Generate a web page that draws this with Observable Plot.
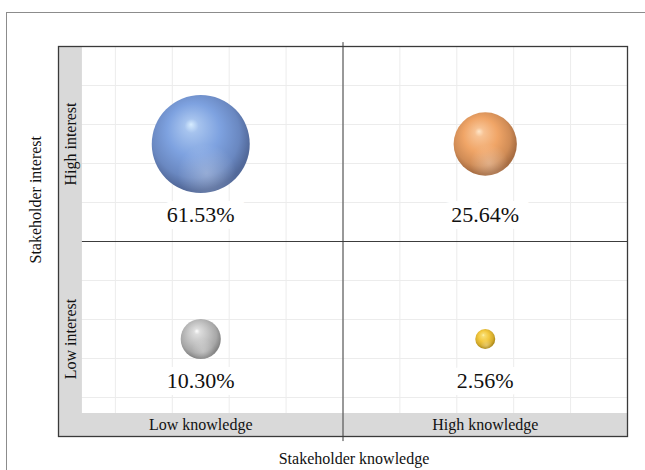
<!DOCTYPE html>
<html><head><meta charset="utf-8">
<script src="https://cdn.jsdelivr.net/npm/d3@7"></script>
<script src="https://cdn.jsdelivr.net/npm/@observablehq/plot@0.6"></script>
<style>
html,body{margin:0;padding:0;background:#fff;overflow:hidden;}
#wrap{position:relative;width:645px;height:470px;overflow:hidden;}
#border{position:absolute;left:6px;top:12px;width:700px;height:520px;border:1.5px solid #8c8c8c;box-sizing:border-box;}
#chart{position:absolute;left:0;top:0;}
</style></head><body>
<div id="wrap"><div id="border"></div><div id="chart"></div></div>
<script>
// ---- data ----
const knowledge = ["Low", "High", "Low", "High"];
const interest = ["High", "High", "Low", "Low"];
const shares = [61.53, 25.64, 10.30, 2.56];
const shareLabels = ["61.53%", "25.64%", "10.30%", "2.56%"];
const knowledgeLabels = ["Low knowledge", "High knowledge"];
const interestLabels = ["High interest", "Low interest"];
const xTitle = "Stakeholder knowledge";
const yTitle = "Stakeholder interest";
// ---- styles ----
const highlightColors = ["#d6ecff", "#ffe6c8", "#ffffff", "#fff6b0"];
const baseColors = ["#7ea2e0", "#f0a567", "#c2c2c2", "#f3c83e"];
const edgeColors = ["#52699a", "#a86d42", "#858585", "#ae8a18"];

// ---- layout ----
const levelPos = {Low: 2.5, High: 7.5};
const labelY = {High: 5.67, Low: 1.42};
const font = "'Liberation Serif', 'Times New Roman', serif";

const rows = shares.map((v, i) => ({k: knowledge[i], it: interest[i], v, label: shareLabels[i], i}));

const svg = Plot.plot({
  width: 645,
  height: 470,
  marginLeft: 58,
  marginRight: 18,
  marginTop: 46,
  marginBottom: 34,
  style: {fontFamily: font, background: "transparent", color: "#111"},
  x: {domain: [0, 10], axis: null},
  y: {domain: [0, 10], axis: null},
  r: {type: "sqrt", domain: [0, d3.max(shares)], range: [0, 49]},
  color: {type: "identity"},
  marks: [
    Plot.ruleX(d3.range(0, 11), {stroke: "#ececec", strokeWidth: 1}),
    Plot.ruleY(d3.range(0, 11), {stroke: "#ececec", strokeWidth: 1}),
    Plot.rect([0], {x1: 0, x2: 0.42, y1: 0, y2: 10, fill: "#d9d9d9"}),
    Plot.rect([0], {x1: 0, x2: 10, y1: 0, y2: 0.59, fill: "#d9d9d9"}),
    Plot.ruleY([5], {x1: 0.42, x2: 10, stroke: "#3c3c3c", strokeWidth: 1}),
    Plot.ruleX([5], {y1: -0.13, y2: 10.1, stroke: "#3c3c3c", strokeWidth: 1}),
    Plot.frame({stroke: "#3a3a3a", strokeWidth: 1.3}),
    Plot.dot(rows, {x: d => levelPos[d.k], y: d => levelPos[d.it], r: "v", fill: d => `url(#sphere-${d.i})`, stroke: null}),
    Plot.dot(rows, {x: d => levelPos[d.k], y: d => levelPos[d.it], r: "v", fill: "url(#sphere-reflect)", stroke: null}),
    Plot.text(rows, {x: d => levelPos[d.k], y: d => labelY[d.it], text: "label", fontSize: 22,
      fill: "#111", stroke: "white", strokeWidth: 14, paintOrder: "stroke", strokeLinejoin: "miter"}),
    Plot.text(knowledgeLabels, {x: d => levelPos[d.split(" ")[0]], y: 0.3, fontSize: 16, fill: "#111"}),
    Plot.text(interestLabels, {x: 0.22, y: d => levelPos[d.split(" ")[0]], rotate: -90, fontSize: 16, fill: "#111"}),
    Plot.text([xTitle], {frameAnchor: "bottom", dx: 11, dy: 27, fontSize: 16, fill: "#111"}),
    Plot.text([yTitle], {frameAnchor: "left", dx: -23, dy: 22, rotate: -90, fontSize: 16, fill: "#111"})
  ]
});

// gradient definitions for the spheres
const defs = d3.select(svg).insert("defs", ":first-child");
shares.forEach((v, i) => {
  const g = defs.append("radialGradient").attr("id", `sphere-${i}`)
    .attr("cx", 0.46).attr("cy", 0.43).attr("r", 0.6).attr("fx", 0.4).attr("fy", 0.3);
  const mid1 = d3.interpolateRgb(highlightColors[i], baseColors[i])(0.55);
  const dark = d3.interpolateRgb(baseColors[i], edgeColors[i])(0.45);
  [[0, highlightColors[i]], [0.12, mid1], [0.45, baseColors[i]], [0.75, dark], [0.92, edgeColors[i]], [1, edgeColors[i]]]
    .forEach(([o, c]) => g.append("stop").attr("offset", o).attr("stop-color", c));
});
const rg = defs.append("radialGradient").attr("id", "sphere-reflect")
  .attr("cx", 0.56).attr("cy", 0.8).attr("r", 0.3);
rg.append("stop").attr("offset", 0).attr("stop-color", "#fff").attr("stop-opacity", 0.28);
rg.append("stop").attr("offset", 1).attr("stop-color", "#fff").attr("stop-opacity", 0);

document.getElementById("chart").appendChild(svg);
</script>
</body></html>
